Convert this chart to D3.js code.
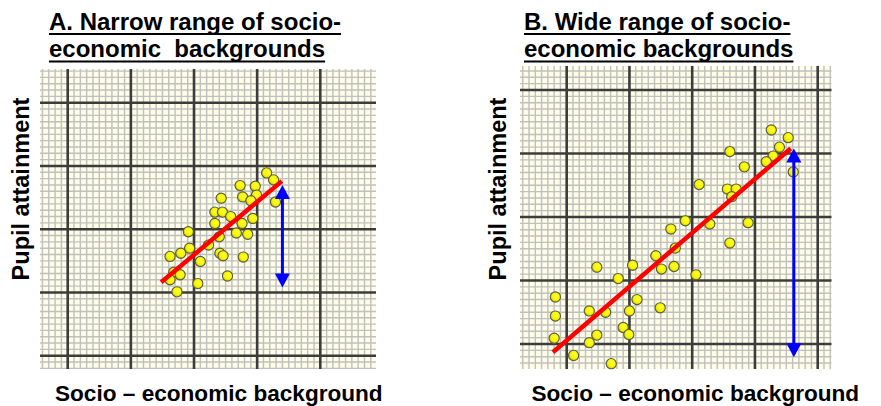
<!DOCTYPE html>
<html>
<head>
<meta charset="utf-8">
<script src="https://cdn.jsdelivr.net/npm/d3@7"></script>
<style>
  html, body { margin: 0; padding: 0; background: #ffffff; }
  svg { display: block; }
  text { font-family: "Liberation Sans", Arial, sans-serif; font-weight: bold; fill: #000; white-space: pre; }
</style>
</head>
<body>
<svg id="chart" width="881" height="406"></svg>
<script>
// ---------- DATA (grid units: one minor square = 1, major lines every 10) ----------
const titleA = ["A. Narrow range of socio-", "economic  backgrounds"];
const titleB = ["B. Wide range of socio-", "economic backgrounds"];
const xAxisLabel = "Socio \u2013 economic background";
const yAxisLabel = "Pupil attainment";
const majorGrid = [10, 20, 30, 40, 50];

// Panel A: narrow range of socio-economic backgrounds
const narrowX = [41.5, 42.6, 37.3, 39.7, 34.3, 37.7, 39.9, 39.0, 42.9, 33.3, 34.5,
                 35.8, 33.3, 37.6, 39.3, 29.1, 36.7, 38.5, 34.0, 29.3, 32.3, 27.9,
                 26.2, 34.1, 34.6, 37.8, 31.0, 26.8, 27.8, 35.3, 26.2, 30.6, 27.3];
const narrowY = [38.9, 37.8, 36.9, 36.8, 34.9, 35.1, 35.4, 34.5, 34.3, 32.7, 32.7,
                 32.0, 30.9, 30.9, 31.7, 29.6, 29.4, 29.2, 28.8, 27.0, 27.5, 26.2,
                 25.7, 26.2, 25.8, 25.6, 24.9, 23.2, 22.8, 22.6, 22.0, 21.4, 20.1];
const narrowFitX = [24.8, 43.9];
const narrowFitY = [21.6, 37.6];
const narrowSpreadX = 44.0;
const narrowSpreadY = [37.0, 20.8];

// Panel B: wide range of socio-economic backgrounds
const wideX = [42.6, 45.3, 43.9, 42.9, 41.8, 36.0, 38.3, 46.1, 31.1, 35.6, 37.0,
               36.3, 28.9, 32.8, 38.9, 26.6, 36.0, 27.3, 24.2, 25.1, 27.1, 20.5,
               14.8, 18.2, 30.6, 8.2, 21.2, 13.6, 16.2, 20.0, 24.9, 8.2, 19.0,
               14.8, 19.9, 8.0, 13.6, 11.1, 17.1];
const wideY = [43.7, 42.5, 41.0, 39.6, 38.7, 40.3, 37.9, 37.1, 35.1, 34.4, 34.4,
               33.2, 29.4, 28.9, 29.1, 28.1, 25.9, 25.1, 23.9, 21.8, 22.2, 22.4,
               22.1, 20.3, 20.9, 17.4, 17.0, 15.2, 15.0, 15.2, 15.7, 14.4, 12.6,
               11.4, 11.5, 10.9, 10.2, 8.2, 6.9];
const wideFitX = [7.8, 45.7];
const wideFitY = [8.7, 40.8];
const wideSpreadX = 46.2;
const wideSpreadY = [40.8, 7.9];

// ---------- DRAWING ----------
const svg = d3.select("#chart");
svg.append("rect").attr("width", 881).attr("height", 406).attr("fill", "#ffffff");

const defs = svg.append("defs");
const grad = defs.append("radialGradient").attr("id", "dotGrad")
  .attr("cx", "60%").attr("cy", "40%").attr("r", "65%");
grad.append("stop").attr("offset", "0%").attr("stop-color", "#ffff30");
grad.append("stop").attr("offset", "65%").attr("stop-color", "#f4f400");
grad.append("stop").attr("offset", "100%").attr("stop-color", "#b8b400");

function panel(cfg) {
  const x = d3.scaleLinear().domain(cfg.xDomain).range(cfg.xRange);
  const y = d3.scaleLinear().domain(cfg.yDomain).range(cfg.yRange);
  const g = svg.append("g");
  const clipId = "clip" + cfg.id;
  defs.append("clipPath").attr("id", clipId).append("rect")
    .attr("x", cfg.xRange[0]).attr("y", cfg.yRange[1])
    .attr("width", cfg.xRange[1] - cfg.xRange[0])
    .attr("height", cfg.yRange[0] - cfg.yRange[1]);

  const grid = g.append("g").attr("clip-path", `url(#${clipId})`);
  grid.append("rect")
    .attr("x", cfg.xRange[0]).attr("y", cfg.yRange[1])
    .attr("width", cfg.xRange[1] - cfg.xRange[0])
    .attr("height", cfg.yRange[0] - cfg.yRange[1])
    .attr("fill", "#fdfdea");

  const xMinor = d3.range(Math.ceil(cfg.xDomain[0]), Math.floor(cfg.xDomain[1]) + 1)
    .filter(v => v % 10 !== 0);
  const yMinor = d3.range(Math.ceil(cfg.yDomain[0]), Math.floor(cfg.yDomain[1]) + 1)
    .filter(v => v % 10 !== 0);

  grid.selectAll("line.vminor").data(xMinor).join("line")
    .attr("x1", d => x(d)).attr("x2", d => x(d))
    .attr("y1", cfg.yRange[0]).attr("y2", cfg.yRange[1])
    .attr("stroke", "#c0c0bc").attr("stroke-width", 1.4);
  grid.selectAll("line.hminor").data(yMinor).join("line")
    .attr("y1", d => y(d)).attr("y2", d => y(d))
    .attr("x1", cfg.xRange[0]).attr("x2", cfg.xRange[1])
    .attr("stroke", "#c0c0bc").attr("stroke-width", 1.4);

  grid.selectAll("line.vmajor").data(majorGrid).join("line")
    .attr("x1", d => x(d)).attr("x2", d => x(d))
    .attr("y1", cfg.yRange[0]).attr("y2", cfg.yRange[1])
    .attr("stroke", "#3c3c3c").attr("stroke-width", 2.6);
  grid.selectAll("line.hmajor").data(majorGrid).join("line")
    .attr("y1", d => y(d)).attr("y2", d => y(d))
    .attr("x1", cfg.xRange[0]).attr("x2", cfg.xRange[1])
    .attr("stroke", "#3c3c3c").attr("stroke-width", 2.6);

  // points
  const pts = cfg.xs.map((v, i) => [v, cfg.ys[i]]);
  g.append("g").selectAll("circle").data(pts).join("circle")
    .attr("cx", d => x(d[0])).attr("cy", d => y(d[1])).attr("r", 5.1)
    .attr("fill", "url(#dotGrad)").attr("stroke", "#5a5a40").attr("stroke-width", 1.1);

  // regression line
  g.append("line")
    .attr("x1", x(cfg.fitX[0])).attr("y1", y(cfg.fitY[0]))
    .attr("x2", x(cfg.fitX[1])).attr("y2", y(cfg.fitY[1]))
    .attr("stroke", "#ff0000").attr("stroke-width", 4.5);

  // double-headed spread arrow
  const ax = x(cfg.spreadX), aTop = y(cfg.spreadY[0]), aBot = y(cfg.spreadY[1]);
  const hw = 7.5, hh = 14;
  g.append("line").attr("x1", ax).attr("x2", ax)
    .attr("y1", aTop + hh - 1).attr("y2", aBot - hh + 1)
    .attr("stroke", "#0000ff").attr("stroke-width", 3);
  g.append("path")
    .attr("d", `M${ax},${aTop} L${ax - hw},${aTop + hh} L${ax + hw},${aTop + hh} Z`)
    .attr("fill", "#0000ff");
  g.append("path")
    .attr("d", `M${ax},${aBot} L${ax - hw},${aBot - hh} L${ax + hw},${aBot - hh} Z`)
    .attr("fill", "#0000ff");

  // title with underlines
  cfg.title.forEach((t, i) => {
    const by = cfg.titleY[i];
    const txt = g.append("text").attr("x", cfg.titleX).attr("y", by)
      .attr("font-size", 24).text(t);
    const w = txt.node().getComputedTextLength();
    g.append("line").attr("x1", cfg.titleX).attr("x2", cfg.titleX + w)
      .attr("y1", by + 4.5).attr("y2", by + 4.5)
      .attr("stroke", "#000").attr("stroke-width", 2);
  });

  // axis titles
  g.append("text").attr("x", cfg.xLabelX).attr("y", 401)
    .attr("font-size", 22.6).text(xAxisLabel);
  g.append("text")
    .attr("transform", `translate(${cfg.yLabelX},189) rotate(-90)`)
    .attr("text-anchor", "middle").attr("font-size", 23.5).text(yAxisLabel);
}

panel({
  id: "A", xDomain: [5.61, 58.82], xRange: [40, 376],
  yDomain: [7.9, 55.33], yRange: [369, 69],
  xs: narrowX, ys: narrowY, fitX: narrowFitX, fitY: narrowFitY,
  spreadX: narrowSpreadX, spreadY: narrowSpreadY,
  title: titleA, titleX: 49, titleY: [29.5, 57],
  xLabelX: 55, yLabelX: 28.5
});
panel({
  id: "B", xDomain: [2.56, 52.23], xRange: [520, 831.7],
  yDomain: [6.06, 53.83], yRange: [369, 65.7],
  xs: wideX, ys: wideY, fitX: wideFitX, fitY: wideFitY,
  spreadX: wideSpreadX, spreadY: wideSpreadY,
  title: titleB, titleX: 524, titleY: [29.5, 57],
  xLabelX: 531.5, yLabelX: 505.5
});
</script>
</body>
</html>
